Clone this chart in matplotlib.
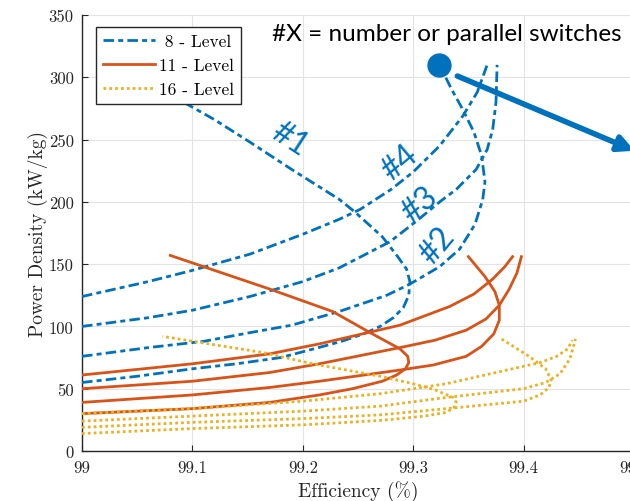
import matplotlib.pyplot as plt

# ---- data (efficiency %, power density kW/kg) ----
# 8-level converter, one curve per number of parallel switches (#1..#4)
eff_8_1 = [99.0, 99.05, 99.1, 99.14, 99.18, 99.21, 99.235, 99.255, 99.27, 99.282, 99.291,
           99.296, 99.297, 99.294, 99.286, 99.272, 99.247, 99.233, 99.19, 99.152, 99.12,
           99.092, 99.05]
pd_8_1 = [55, 60, 66, 70, 75, 82, 88, 94, 100, 107, 115,
          125, 136, 146, 156, 172, 192, 202, 226, 248, 266,
          280, 302]
eff_8_2 = [99.0, 99.06, 99.11, 99.152, 99.19, 99.233, 99.276, 99.297, 99.324, 99.342,
           99.356, 99.363, 99.365, 99.362, 99.355, 99.345, 99.335, 99.326]
pd_8_2 = [76, 83, 88, 95, 101, 112, 125, 134, 148, 162, 182, 202, 216, 237, 256, 274,
          290, 306]
eff_8_3 = [99.0, 99.06, 99.1, 99.152, 99.2, 99.233, 99.279, 99.305, 99.324, 99.339,
           99.357, 99.367, 99.372, 99.375, 99.376]
pd_8_3 = [100, 107, 113, 124, 136, 147, 168, 186, 200, 210, 226, 242, 258, 280, 310]
eff_8_4 = [99.0, 99.06, 99.1, 99.152, 99.2, 99.233, 99.252, 99.28, 99.3, 99.324, 99.345,
           99.358, 99.367]
pd_8_4 = [124, 136, 145, 158, 174, 186, 194, 210, 224, 245, 269, 288, 310]

# 11-level converter
eff_11_1 = [99.0, 99.1, 99.17, 99.215, 99.245, 99.272, 99.285, 99.293, 99.296, 99.295,
            99.288, 99.261, 99.227, 99.17, 99.08]
pd_11_1 = [30, 34, 39, 45, 50, 56, 61, 66, 71, 76, 82, 95, 112, 130, 157]
eff_11_2 = [99.0, 99.1, 99.17, 99.215, 99.288, 99.318, 99.348, 99.362, 99.373, 99.378,
            99.378, 99.374, 99.365, 99.35]
pd_11_2 = [39, 45, 51, 56, 65, 69, 76, 84, 94, 105, 117, 128, 140, 156]
eff_11_3 = [99.0, 99.1, 99.17, 99.215, 99.288, 99.32, 99.348, 99.366, 99.378, 99.387,
            99.394, 99.398]
pd_11_3 = [50, 56, 63, 70, 83, 89, 97, 106, 117, 130, 143, 156]
eff_11_4 = [99.0, 99.1, 99.17, 99.215, 99.288, 99.333, 99.355, 99.372, 99.383, 99.39]
pd_11_4 = [61, 70, 78, 86, 101, 116, 126, 138, 148, 156]

# 16-level converter
eff_16_1 = [99.0, 99.1, 99.2, 99.27, 99.31, 99.33, 99.337, 99.339, 99.336, 99.32, 99.3,
            99.27, 99.209, 99.164, 99.073]
pd_16_1 = [14, 18, 21, 24.5, 28, 31, 35, 39, 43, 49, 54, 60, 70, 79, 92]
eff_16_2 = [99.0, 99.1, 99.2, 99.27, 99.33, 99.4, 99.415, 99.423, 99.425, 99.42, 99.405,
            99.378]
pd_16_2 = [19, 23, 26, 29, 34, 40, 45, 51, 57, 66, 76, 91]
eff_16_3 = [99.0, 99.1, 99.2, 99.27, 99.33, 99.4, 99.42, 99.433, 99.442, 99.447]
pd_16_3 = [24, 28, 32, 36, 43, 50, 55, 62, 74, 90]
eff_16_4 = [99.0, 99.1, 99.2, 99.27, 99.33, 99.39, 99.415, 99.43, 99.44, 99.444]
pd_16_4 = [30, 34, 40, 46, 54, 66, 71, 76, 82, 89]

x_ticks = [99.0, 99.1, 99.2, 99.3, 99.4, 99.5]
x_tick_labels = ['99', '99.1', '99.2', '99.3', '99.4', '99.5']
y_ticks = [0, 50, 100, 150, 200, 250, 300, 350]

switch_labels = ['#1', '#2', '#3', '#4']
switch_label_pos = [(99.188, 251), (99.322, 165), (99.306, 198), (99.288, 232)]
switch_label_rot = [-33, 50, 40, 40]

BLUE = '#0072BD'
ORANGE = '#D95319'
YELLOW = '#EDB120'
DARK = '#262626'

serif = 'cmr10'
sans = ['Lato', 'DejaVu Sans']

fig = plt.figure(figsize=(6.3, 5.02), dpi=100)
ax = fig.add_axes([82 / 630, 50 / 502, 552 / 630, 436 / 502])

dash8 = (0, (3.8, 1.5, 1.8, 1.5))
dot16 = (0, (1, 1.1))

blue_curves = [(eff_8_1, pd_8_1), (eff_8_2, pd_8_2), (eff_8_3, pd_8_3), (eff_8_4, pd_8_4)]
orange_curves = [(eff_11_1, pd_11_1), (eff_11_2, pd_11_2), (eff_11_3, pd_11_3), (eff_11_4, pd_11_4)]
yellow_curves = [(eff_16_1, pd_16_1), (eff_16_2, pd_16_2), (eff_16_3, pd_16_3), (eff_16_4, pd_16_4)]

handles = []
for i, (x, y) in enumerate(blue_curves):
    h, = ax.plot(x, y, color=BLUE, lw=2, ls=dash8, zorder=3)
    if i == 0:
        handles.append(h)
for i, (x, y) in enumerate(orange_curves):
    h, = ax.plot(x, y, color=ORANGE, lw=2, ls='-', zorder=3)
    if i == 0:
        handles.append(h)
for i, (x, y) in enumerate(yellow_curves):
    h, = ax.plot(x, y, color=YELLOW, lw=2, ls=dot16, zorder=3)
    if i == 0:
        handles.append(h)

ax.set_xlim(99, 99.5)
ax.set_ylim(0, 350)
ax.set_xticks(x_ticks)
ax.set_xticklabels(x_tick_labels)
ax.set_yticks(y_ticks)
ax.set_yticklabels([str(v) for v in y_ticks])
for lab in ax.get_xticklabels() + ax.get_yticklabels():
    lab.set_fontfamily(serif)
    lab.set_fontsize(12)
    lab.set_color(DARK)
ax.tick_params(direction='in', length=4, color=DARK, pad=6)
ax.grid(True, color='#e3e3e3', lw=0.8, zorder=0)
ax.set_axisbelow(True)
for side in ['top', 'right']:
    ax.spines[side].set_visible(False)
for side in ['left', 'bottom']:
    ax.spines[side].set_color(DARK)
    ax.spines[side].set_linewidth(1)

ax.set_xlabel('Efficiency (%)', fontfamily=serif, fontsize=14, color=DARK, labelpad=4)
ax.set_ylabel('Power Density (kW/kg)', fontfamily=serif, fontsize=14, color=DARK)
ax.yaxis.set_label_coords(-0.062, 0.5)

leg = ax.legend(handles, [' 8 - Level', '11 - Level', '16 - Level'],
                loc='upper left', bbox_to_anchor=(0.025, 0.972), borderaxespad=0,
                prop={'family': serif, 'size': 12.5}, fancybox=False, framealpha=1,
                edgecolor=DARK, handlelength=3.0, handletextpad=0.25,
                borderpad=0.4, labelspacing=0.5)
leg.get_frame().set_linewidth(1)
leg.set_zorder(5)

for text, (tx, ty), rot in zip(switch_labels, switch_label_pos, switch_label_rot):
    ax.text(tx, ty, text, color=BLUE, fontsize=23, family=sans, rotation=rot,
            ha='center', va='center', rotation_mode='anchor', zorder=4)

# annotation: marker + arrow + note
ax.plot([99.323], [309.8], 'o', color=BLUE, ms=16.5, zorder=6, clip_on=False)
ax.annotate('', xy=(99.5005, 241), xytext=(99.340, 301),
            arrowprops=dict(arrowstyle='-|>', color=BLUE, lw=4, mutation_scale=24,
                            shrinkA=0, shrinkB=0),
            annotation_clip=False, zorder=6)
fig.text(272 / 630, 1 - 35 / 502, '#X = number or parallel switches', fontsize=17.5,
         family=sans, color='black', ha='left', va='center')

fig.savefig('out.png', dpi=100)
